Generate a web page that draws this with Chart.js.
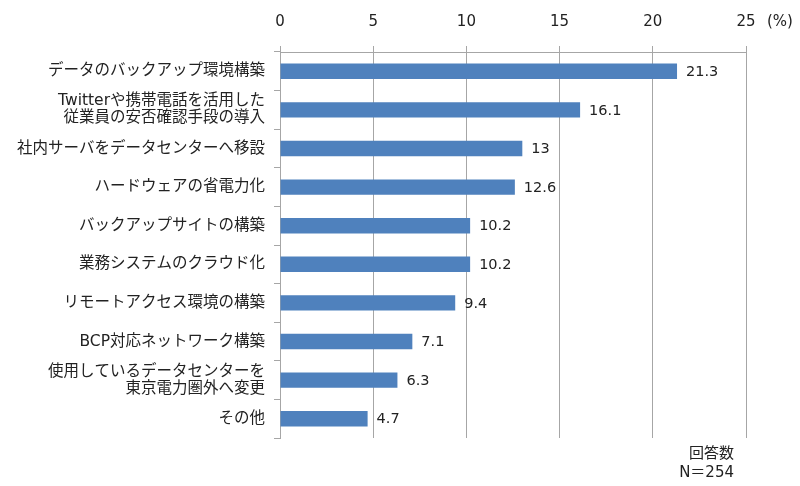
<!DOCTYPE html>
<html lang="ja">
<head>
<meta charset="utf-8">
<title>クラウド・データセンター関連の対策</title>
<script src="https://cdn.jsdelivr.net/npm/chart.js@4.4.1/dist/chart.umd.min.js"></script>
<style>
    html, body { margin: 0; padding: 0; background: #fff; }
    #wrap { width: 800px; height: 486px; }
</style>
</head>
<body>
<div id="wrap"><canvas id="measuresChart"></canvas></div>
<script>
// 実施した対策（複数回答, %）
const categories = [
    'データのバックアップ環境構築',
    ['Twitterや携帯電話を活用した', '従業員の安否確認手段の導入'],
    '社内サーバをデータセンターへ移設',
    'ハードウェアの省電力化',
    'バックアップサイトの構築',
    '業務システムのクラウド化',
    'リモートアクセス環境の構築',
    'BCP対応ネットワーク構築',
    ['使用しているデータセンターを', '東京電力圏外へ変更'],
    'その他'
];
const shares = [21.3, 16.1, 13, 12.6, 10.2, 10.2, 9.4, 7.1, 6.3, 4.7];
const axisTicks = [0, 5, 10, 15, 20, 25];
const unitLabel = '(%)';
const noteLines = ['回答数', 'N＝254'];

const textColor = '#222';
const gridColor = '#a6a6a6';
const barColor = '#4f81bd';
const latinFont = '"DejaVu Sans", "Noto Sans CJK JP", sans-serif';
const jpFont = '"DejaVu Sans", "Noto Sans CJK JP", sans-serif';

// 棒の右に値、軸の単位、回答数の注記
const annotations = {
    id: 'annotations',
    afterDatasetsDraw(chart) {
        const ctx = chart.ctx;
        const meta = chart.getDatasetMeta(0);
        ctx.save();
        ctx.fillStyle = textColor;
        ctx.font = '14.5px ' + latinFont;
        ctx.textAlign = 'left';
        ctx.textBaseline = 'middle';
        meta.data.forEach((bar, i) => {
            ctx.fillText(String(shares[i]), bar.x + 9, bar.y + 1);
        });

        const xScale = chart.scales.x;
        const last = axisTicks[axisTicks.length - 1];
        ctx.font = '15px ' + latinFont;
        ctx.fillText(unitLabel, xScale.getPixelForValue(last) + 21, 22);

        const area = chart.chartArea;
        ctx.font = '15px ' + jpFont;
        ctx.textAlign = 'right';
        ctx.fillText(noteLines[0], area.right - 12, area.bottom + 16);
        ctx.fillText(noteLines[1], area.right - 12, area.bottom + 35);
        ctx.restore();
    }
};

const ctx = document.getElementById('measuresChart').getContext('2d');
const measuresChart = new Chart(ctx, {
    type: 'bar',
    data: {
        labels: categories,
        datasets: [{
            data: shares,
            backgroundColor: barColor,
            borderWidth: 0,
            barPercentage: 0.4,
            categoryPercentage: 1
        }]
    },
    options: {
        indexAxis: 'y',
        responsive: true,
        maintainAspectRatio: false,
        animation: false,
        layout: {
            padding: { left: 0, right: 54, top: 0, bottom: 48 }
        },
        plugins: {
            legend: { display: false },
            tooltip: { enabled: false }
        },
        scales: {
            x: {
                position: 'top',
                min: axisTicks[0],
                max: axisTicks[axisTicks.length - 1],
                afterFit: scale => { scale.height = 52; },
                afterBuildTicks: scale => {
                    scale.ticks = axisTicks.map(v => ({ value: v }));
                },
                ticks: {
                    color: textColor,
                    font: { family: latinFont, size: 15 },
                    padding: 15
                },
                grid: {
                    color: gridColor,
                    tickLength: 6
                },
                border: { color: gridColor }
            },
            y: {
                afterFit: scale => { scale.width = 280; },
                ticks: {
                    color: textColor,
                    font: { family: jpFont, size: 15.5, lineHeight: 1.1 },
                    padding: 9,
                    autoSkip: false
                },
                grid: {
                    offset: true,
                    drawOnChartArea: false,
                    color: gridColor,
                    tickLength: 6
                },
                border: { color: gridColor }
            }
        }
    },
    plugins: [annotations]
});
</script>
</body>
</html>
